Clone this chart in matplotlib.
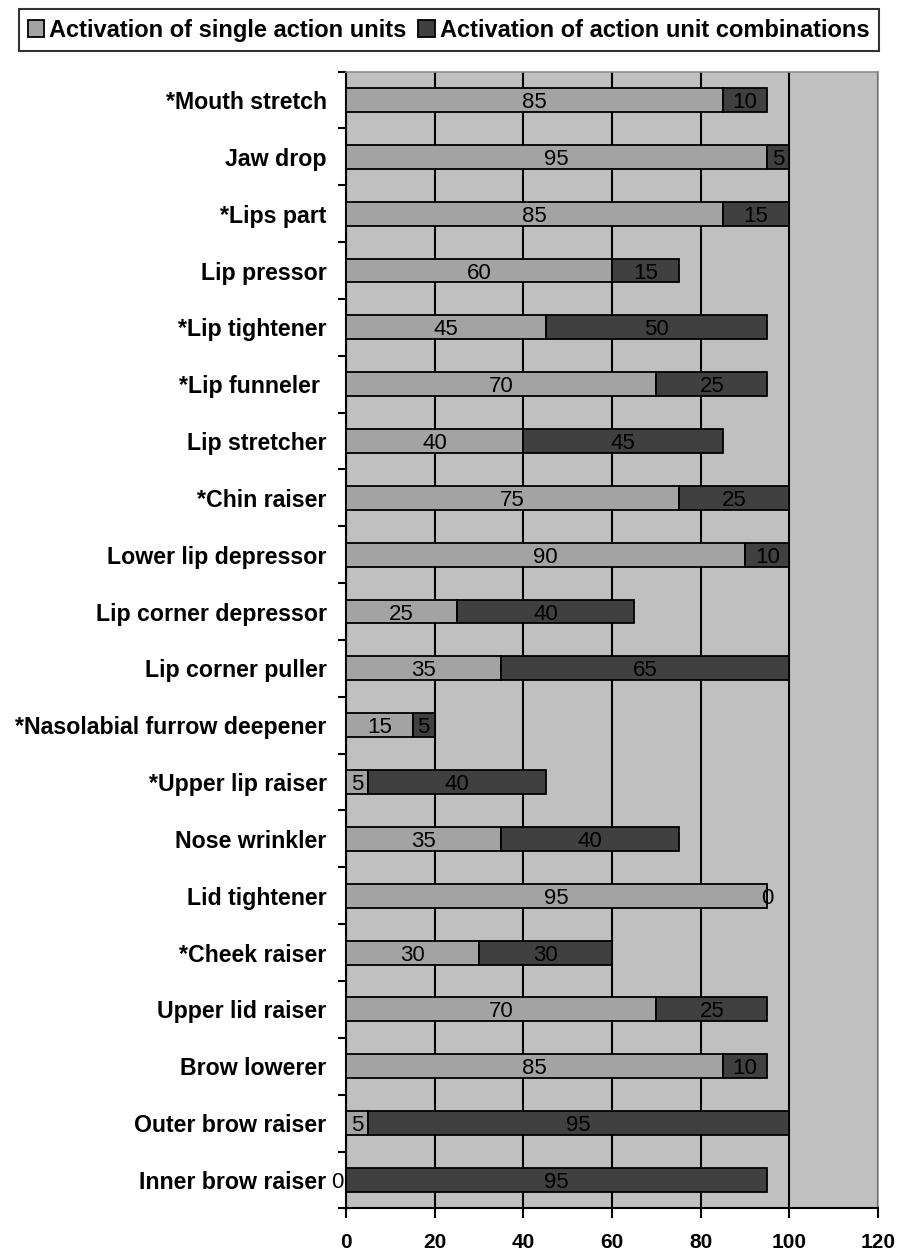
import matplotlib.pyplot as plt
import numpy as np

plt.rcParams['font.family'] = ['Liberation Sans', 'DejaVu Sans']

categories = ['Inner brow raiser', 'Outer brow raiser', 'Brow lowerer', 'Upper lid raiser',
              '*Cheek raiser', 'Lid tightener', 'Nose wrinkler', '*Upper lip raiser',
              '*Nasolabial furrow deepener', 'Lip corner puller', 'Lip corner depressor',
              'Lower lip depressor', '*Chin raiser', 'Lip stretcher', '*Lip funneler ',
              '*Lip tightener', 'Lip pressor', '*Lips part', 'Jaw drop', '*Mouth stretch']
single = [0, 5, 85, 70, 30, 95, 35, 5, 15, 35, 25, 90, 75, 40, 70, 45, 60, 85, 95, 85]
combos = [95, 95, 10, 25, 30, 0, 40, 40, 5, 65, 40, 10, 25, 45, 25, 50, 15, 15, 5, 10]
xticks = [0, 20, 40, 60, 80, 100, 120]

fig = plt.figure(figsize=(8.99, 12.54), dpi=100)
ax = fig.add_axes([0.3849, 0.0364, 0.5918, 0.9065])
ax.set_facecolor('#c0c0c0')

y = np.arange(len(categories))
h = 0.42
b1 = ax.barh(y, single, height=h, color='#a3a3a3', edgecolor='black', linewidth=1.3,
             label='Activation of single action units', zorder=3)
b2 = ax.barh(y, combos, left=single, height=h, color='#404040', edgecolor='black',
             linewidth=1.3, label='Activation of action unit combinations', zorder=3)

for i in range(len(categories)):
    if single[i] > 0:
        ax.text(single[i] / 2, y[i], str(single[i]), ha='center', va='center_baseline',
                fontsize=16, zorder=4)
    else:
        # zero value: sits just left of the axis
        ax.text(-0.6, y[i], str(single[i]), ha='right', va='center_baseline',
                fontsize=16, zorder=4, clip_on=False)
    ax.text(single[i] + combos[i] / 2, y[i], str(combos[i]), ha='center',
            va='center_baseline', fontsize=16, zorder=4)

ax.set_xlim(0, 120)
ax.set_ylim(-0.5, len(categories) - 0.5)
ax.set_xticks(xticks)
ax.set_xticklabels([str(t) for t in xticks], fontsize=15, fontweight='bold')
ax.tick_params(axis='x', direction='out', length=7, width=1.5, pad=11)
ax.set_yticks(y)
ax.set_yticklabels(categories, fontsize=16.7, fontweight='bold')
ax.set_yticks(np.arange(-0.5, len(categories), 1), minor=True)
ax.tick_params(axis='y', which='major', length=0, pad=14)
ax.tick_params(axis='y', which='minor', direction='out', length=6, width=1.5)
ax.grid(axis='x', color='black', linewidth=1.5, zorder=1)
for s in ['top', 'right']:
    ax.spines[s].set_color('#8c8c8c')
    ax.spines[s].set_linewidth(1.2)
for s in ['left', 'bottom']:
    ax.spines[s].set_linewidth(1.5)

leg = fig.legend(handles=[b1, b2], loc='center', bbox_to_anchor=(0.499, 0.976),
                 ncol=2, frameon=True, fancybox=False,
                 handlelength=0.7, handleheight=0.7, handletextpad=0.2,
                 columnspacing=0.5, borderpad=0.4, prop={'weight': 'bold', 'size': 17})
leg.get_frame().set_edgecolor('black')
leg.get_frame().set_linewidth(1.5)

plt.savefig('out.png', dpi=100)
plt.close()
